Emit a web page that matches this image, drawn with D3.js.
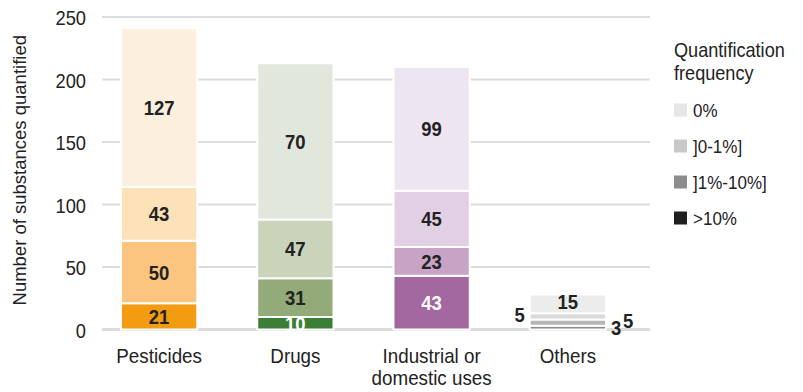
<!DOCTYPE html>
<html><head><meta charset="utf-8">
<script src="https://cdn.jsdelivr.net/npm/d3@7"></script>
<style>
html,body{margin:0;padding:0;background:#fff;}
svg{display:block;font-family:"Liberation Sans","Arial","Helvetica",sans-serif;}
</style></head><body>
<svg id="chart" width="803" height="392"></svg>
<script>
// ---- data ----
const categories = ["Pesticides", "Drugs", "Industrial or domestic uses", "Others"];
const categoryLines = [["Pesticides"], ["Drugs"], ["Industrial or", "domestic uses"], ["Others"]];
const frequencies = [">10%", "]1%-10%]", "]0-1%]", "0%"]; // stacking order, bottom to top
const legendOrder = ["0%", "]0-1%]", "]1%-10%]", ">10%"];
// counts per frequency class (labels shown in the reference)
const gt10   = [21, 10, 43, 3];
const f1to10 = [50, 31, 23, 5];
const f0to1  = [43, 47, 45, 5];
const f0     = [127, 70, 99, 15];
// segment heights as drawn in the reference (Drugs' 0% segment is drawn taller than its label)
const f0Drawn = [127, 125, 99, 15];
const yTicks = [0, 50, 100, 150, 200, 250];

// ---- styles ----
const segColors = [
  ["#f39c12", "#fbc57f", "#fde1b8", "#fdefdd"],
  ["#3b7f36", "#93ab78", "#c9d4bb", "#e1e7dc"],
  ["#a3689f", "#c8a3c6", "#e1d0e4", "#ede6f2"],
  ["#8a8a8a", "#b5b5b5", "#d9d9d9", "#ececec"]
];
const legendColors = {"0%": "#e6e6e6", "]0-1%]": "#c8c8c8", "]1%-10%]": "#8c8c8c", ">10%": "#1f1f1f"};
const labelColors = [
  ["#222", "#222", "#222", "#222"],
  ["#fff", "#222", "#222", "#222"],
  ["#fff", "#222", "#222", "#222"],
  ["#222", "#222", "#222", "#222"]
];

const svg = d3.select("#chart");

const y = d3.scaleLinear().domain([0, 250]).range([329.5, 17]);
const x = d3.scaleBand().domain(categories).range([91, 636]).paddingInner(0.44).paddingOuter(0.22);

// condensed text helper
function ctext(g, tx, ty, sx) {
  return g.append("text").attr("transform", `translate(${tx},${ty}) scale(${sx},1)`);
}

// gridlines
const gridG = svg.append("g");
gridG.selectAll("line").data(yTicks).join("line")
  .attr("x1", 102).attr("x2", 650)
  .attr("y1", d => y(d)).attr("y2", d => y(d))
  .attr("stroke", "#dcdcdc").attr("stroke-width", d => d === 0 ? 3 : 2);

// y axis labels (via axis, then condensed)
const yAxis = d3.axisLeft(y).tickValues(yTicks).tickSize(0).tickPadding(0);
const ya = svg.append("g").attr("transform", "translate(86,0)").call(yAxis);
ya.select(".domain").remove();
ya.attr("font-family", null).attr("font-size", null);
ya.selectAll("text").attr("font-size", 21).attr("fill", "#222")
  .attr("transform", "scale(0.87,1)").attr("dy", "0.36em");

svg.append("text")
  .attr("transform", `translate(26,${(y(0) + y(250)) / 2 - 3}) rotate(-90)`)
  .attr("text-anchor", "middle").attr("font-size", 18.5).attr("fill", "#222")
  .text("Number of substances quantified");

// stacked data
const series = [gt10, f1to10, f0to1, f0Drawn];
const labels = [gt10, f1to10, f0to1, f0];
const rows = categories.map((c, i) => {
  const o = {cat: c};
  frequencies.forEach((f, k) => o[f] = series[k][i]);
  return o;
});
const stacked = d3.stack().keys(frequencies)(rows);

const barG = svg.append("g");
stacked.forEach((layer, k) => {
  layer.forEach((d, i) => {
    barG.append("rect")
      .attr("x", x(categories[i]))
      .attr("width", x.bandwidth())
      .attr("y", y(d[1]))
      .attr("height", Math.max(0, y(d[0]) - y(d[1])))
      .attr("fill", segColors[i][k])
      .attr("stroke", "#fff").attr("stroke-width", 2);
  });
});

// segment labels
const lblG = svg.append("g").attr("font-weight", "bold").attr("font-size", 21)
  .attr("text-anchor", "middle");
stacked.forEach((layer, k) => {
  layer.forEach((d, i) => {
    const cx = x(categories[i]) + x.bandwidth() / 2;
    let lx = cx, ly = y((d[0] + d[1]) / 2);
    if (i === 3) {
      // small Others segments: labels placed outside the bar
      if (k === 0) { lx = x(categories[i]) + x.bandwidth() + 10; ly = y(d[0]) - 2; }
      else if (k === 1) { lx = x(categories[i]) + x.bandwidth() + 22; ly = y(d[1]) + 1; }
      else if (k === 2) { lx = x(categories[i]) - 10; ly = y(d[1]) + 1; }
      else { ly = y((d[0] + d[1]) / 2) - 2; }
    }
    ctext(lblG, lx, ly, 0.88).attr("dy", "0.36em")
      .attr("fill", labelColors[i][k])
      .text(labels[k][i]);
  });
});

// category labels
const catG = svg.append("g").attr("font-size", 20).attr("fill", "#222").attr("text-anchor", "middle");
categories.forEach((c, i) => {
  const cx = x(c) + x.bandwidth() / 2;
  categoryLines[i].forEach((ln, j) => {
    ctext(catG, cx, 363 + j * 22, 0.94).text(ln);
  });
});

// legend
const lg = svg.append("g").attr("transform", "translate(674,0)");
["Quantification", "frequency"].forEach((t, i) => {
  ctext(lg, 0, 57 + i * 23, 0.93).attr("font-size", 19.5).attr("fill", "#222").text(t);
});
legendOrder.forEach((f, i) => {
  const cy = 110 + i * 36;
  lg.append("rect").attr("x", 0).attr("y", cy - 6.5).attr("width", 13).attr("height", 13)
    .attr("fill", legendColors[f]);
  ctext(lg, 19, cy, 0.92).attr("dy", "0.36em")
    .attr("font-size", 18.5).attr("fill", "#222").text(f);
});
</script>
</body></html>
